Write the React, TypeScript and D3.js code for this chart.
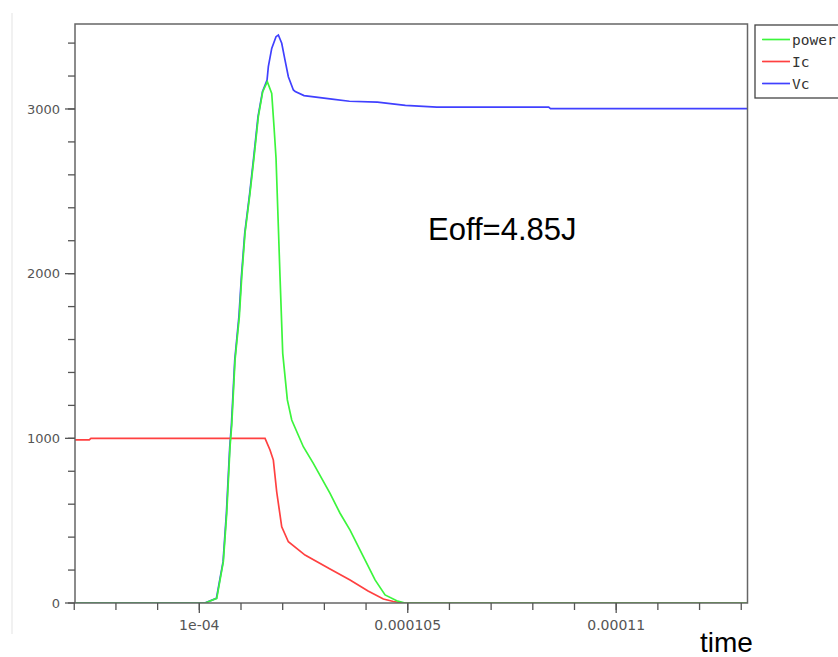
import React from "react";
import * as d3 from "d3";

// time in microseconds
const powerT = [97.02, 100.137, 100.418, 100.576, 100.658, 100.737, 100.778, 100.857, 100.96, 101.018, 101.097, 101.217, 101.313, 101.416, 101.521, 101.632, 101.737, 101.792, 101.84, 101.896, 101.936, 102.001, 102.112, 102.217, 102.495, 102.735, 103.136, 103.376, 103.616, 103.935, 104.216, 104.456, 104.736, 104.935, 113.15];
const powerV = [0, 0, 28, 251, 546, 949, 1081, 1476, 1739, 1982, 2247, 2490, 2708, 2953, 3105, 3166, 3095, 2892, 2702, 2285, 1982, 1516, 1233, 1111, 949, 848, 666, 545, 443, 281, 140, 49, 14, 0, 0];

const icT = [97.02, 97.36, 97.4, 101.577, 101.696, 101.776, 101.857, 101.977, 102.136, 102.536, 103.136, 103.616, 104.048, 104.415, 104.655, 104.895, 113.15];
const icV = [990, 990, 1000, 1000, 929, 868, 674, 463, 372, 291, 206, 140, 73, 24, 9, 0, 0];

const vcT = [97.02, 100.13, 100.41, 100.57, 100.65, 100.73, 100.77, 100.85, 100.95, 101.01, 101.09, 101.21, 101.305, 101.408, 101.515, 101.625, 101.656, 101.737, 101.84, 101.896, 101.977, 102.056, 102.136, 102.256, 102.301, 102.512, 103.184, 103.601, 104.273, 104.943, 105.698, 108.381, 108.424, 113.15];
const vcV = [0, 0, 28, 251, 546, 949, 1081, 1476, 1739, 1982, 2247, 2490, 2708, 2953, 3105, 3176, 3257, 3368, 3439, 3449, 3399, 3297, 3196, 3115, 3106, 3081, 3060, 3047, 3042, 3022, 3011, 3011, 3002, 3002];

const seriesNames = ["power", "Ic", "Vc"];
const seriesColors = ["#3cf53c", "#ff4040", "#4040ff"];

const yMajorTicks = [0, 1000, 2000, 3000];
const yMajorLabels = ["0", "1000", "2000", "3000"];
const xMajorTicks = [100, 105, 110];
const xMajorLabels = ["1e-04", "0.000105", "0.00011"];

const X_DOMAIN = [97.018, 113.15];
const Y_DOMAIN = [0, 3516];

export default function App() {
  const left = 75, right = 747.5, top = 24, bottom = 603;
  const x = d3.scaleLinear().domain(X_DOMAIN).range([left, right]);
  const y = d3.scaleLinear().domain(Y_DOMAIN).range([bottom, top]);
  const line = d3.line<[number, number]>().x(d => x(d[0])).y(d => y(d[1]));
  const zip = (t: number[], v: number[]) => t.map((tt, i) => [tt, v[i]] as [number, number]);

  const yMinor = d3.range(0, 3401, 200);
  const xMinor = d3.range(97, 113.01, 1);
  const axisColor = "#555";
  const labelFont = "DejaVu Sans, sans-serif";

  const data = [zip(powerT, powerV), zip(icT, icV), zip(vcT, vcV)];
  const drawOrder = [2, 1, 0];

  return (
    <div style={{ position: "absolute", left: 0, top: 0 }}>
      <svg width={838} height={657} style={{ display: "block", background: "#fff" }}>
        <line x1={12} x2={12} y1={13} y2={634} stroke="#ececec" strokeWidth={1.5} />
        <defs>
          <clipPath id="plotclip">
            <rect x={left} y={top} width={right - left} height={bottom - top} />
          </clipPath>
        </defs>
        <g clipPath="url(#plotclip)">
          {drawOrder.map(i => (
            <path key={i} d={line(data[i]) || ""} fill="none" stroke={seriesColors[i]} strokeWidth={1.7} />
          ))}
        </g>
        {/* frame */}
        <rect x={left} y={top} width={right - left} height={bottom - top} fill="none" stroke="#666" strokeWidth={1.5} />
        {/* y ticks */}
        {yMinor.map(v => (
          <line key={"ym" + v} x1={left - 7} x2={left} y1={y(v)} y2={y(v)} stroke={axisColor} strokeWidth={1.3} />
        ))}
        {yMajorTicks.map((v, i) => (
          <g key={"yM" + v}>
            <line x1={left - 10} x2={left} y1={y(v)} y2={y(v)} stroke={axisColor} strokeWidth={1.3} />
            <text x={60} y={y(v)} dy="0.35em" textAnchor="end" fontFamily={labelFont} fontSize={13} fill="#555">{yMajorLabels[i]}</text>
          </g>
        ))}
        {/* x ticks */}
        {xMinor.map(v => (
          <line key={"xm" + v} x1={x(v)} x2={x(v)} y1={bottom} y2={bottom + 7} stroke={axisColor} strokeWidth={1.3} />
        ))}
        {xMajorTicks.map((v, i) => (
          <g key={"xM" + v}>
            <line x1={x(v)} x2={x(v)} y1={bottom} y2={bottom + 10} stroke={axisColor} strokeWidth={1.3} />
            <text x={x(v)} y={625} dy="0.35em" textAnchor="middle" fontFamily={labelFont} fontSize={14} fill="#555">{xMajorLabels[i]}</text>
          </g>
        ))}
        {/* legend */}
        <rect x={755} y={25} width={90} height={73} fill="#fff" stroke="#444" strokeWidth={1.3} />
        {seriesNames.map((n, i) => (
          <g key={n}>
            <line x1={762} x2={790} y1={39.5 + i * 22} y2={39.5 + i * 22} stroke={seriesColors[i]} strokeWidth={1.7} />
            <text x={792} y={39.5 + i * 22} dy="0.35em" fontFamily="DejaVu Sans Mono, monospace" fontSize={14.5} fill="#333">{n}</text>
          </g>
        ))}
        <text x={428} y={240} fontFamily="Liberation Sans, Arial, sans-serif" fontSize={31} fill="#000">Eoff=4.85J</text>
        <text x={700} y={652} fontFamily="Liberation Sans, Arial, sans-serif" fontSize={28} fill="#000">time</text>
      </svg>
    </div>
  );
}
